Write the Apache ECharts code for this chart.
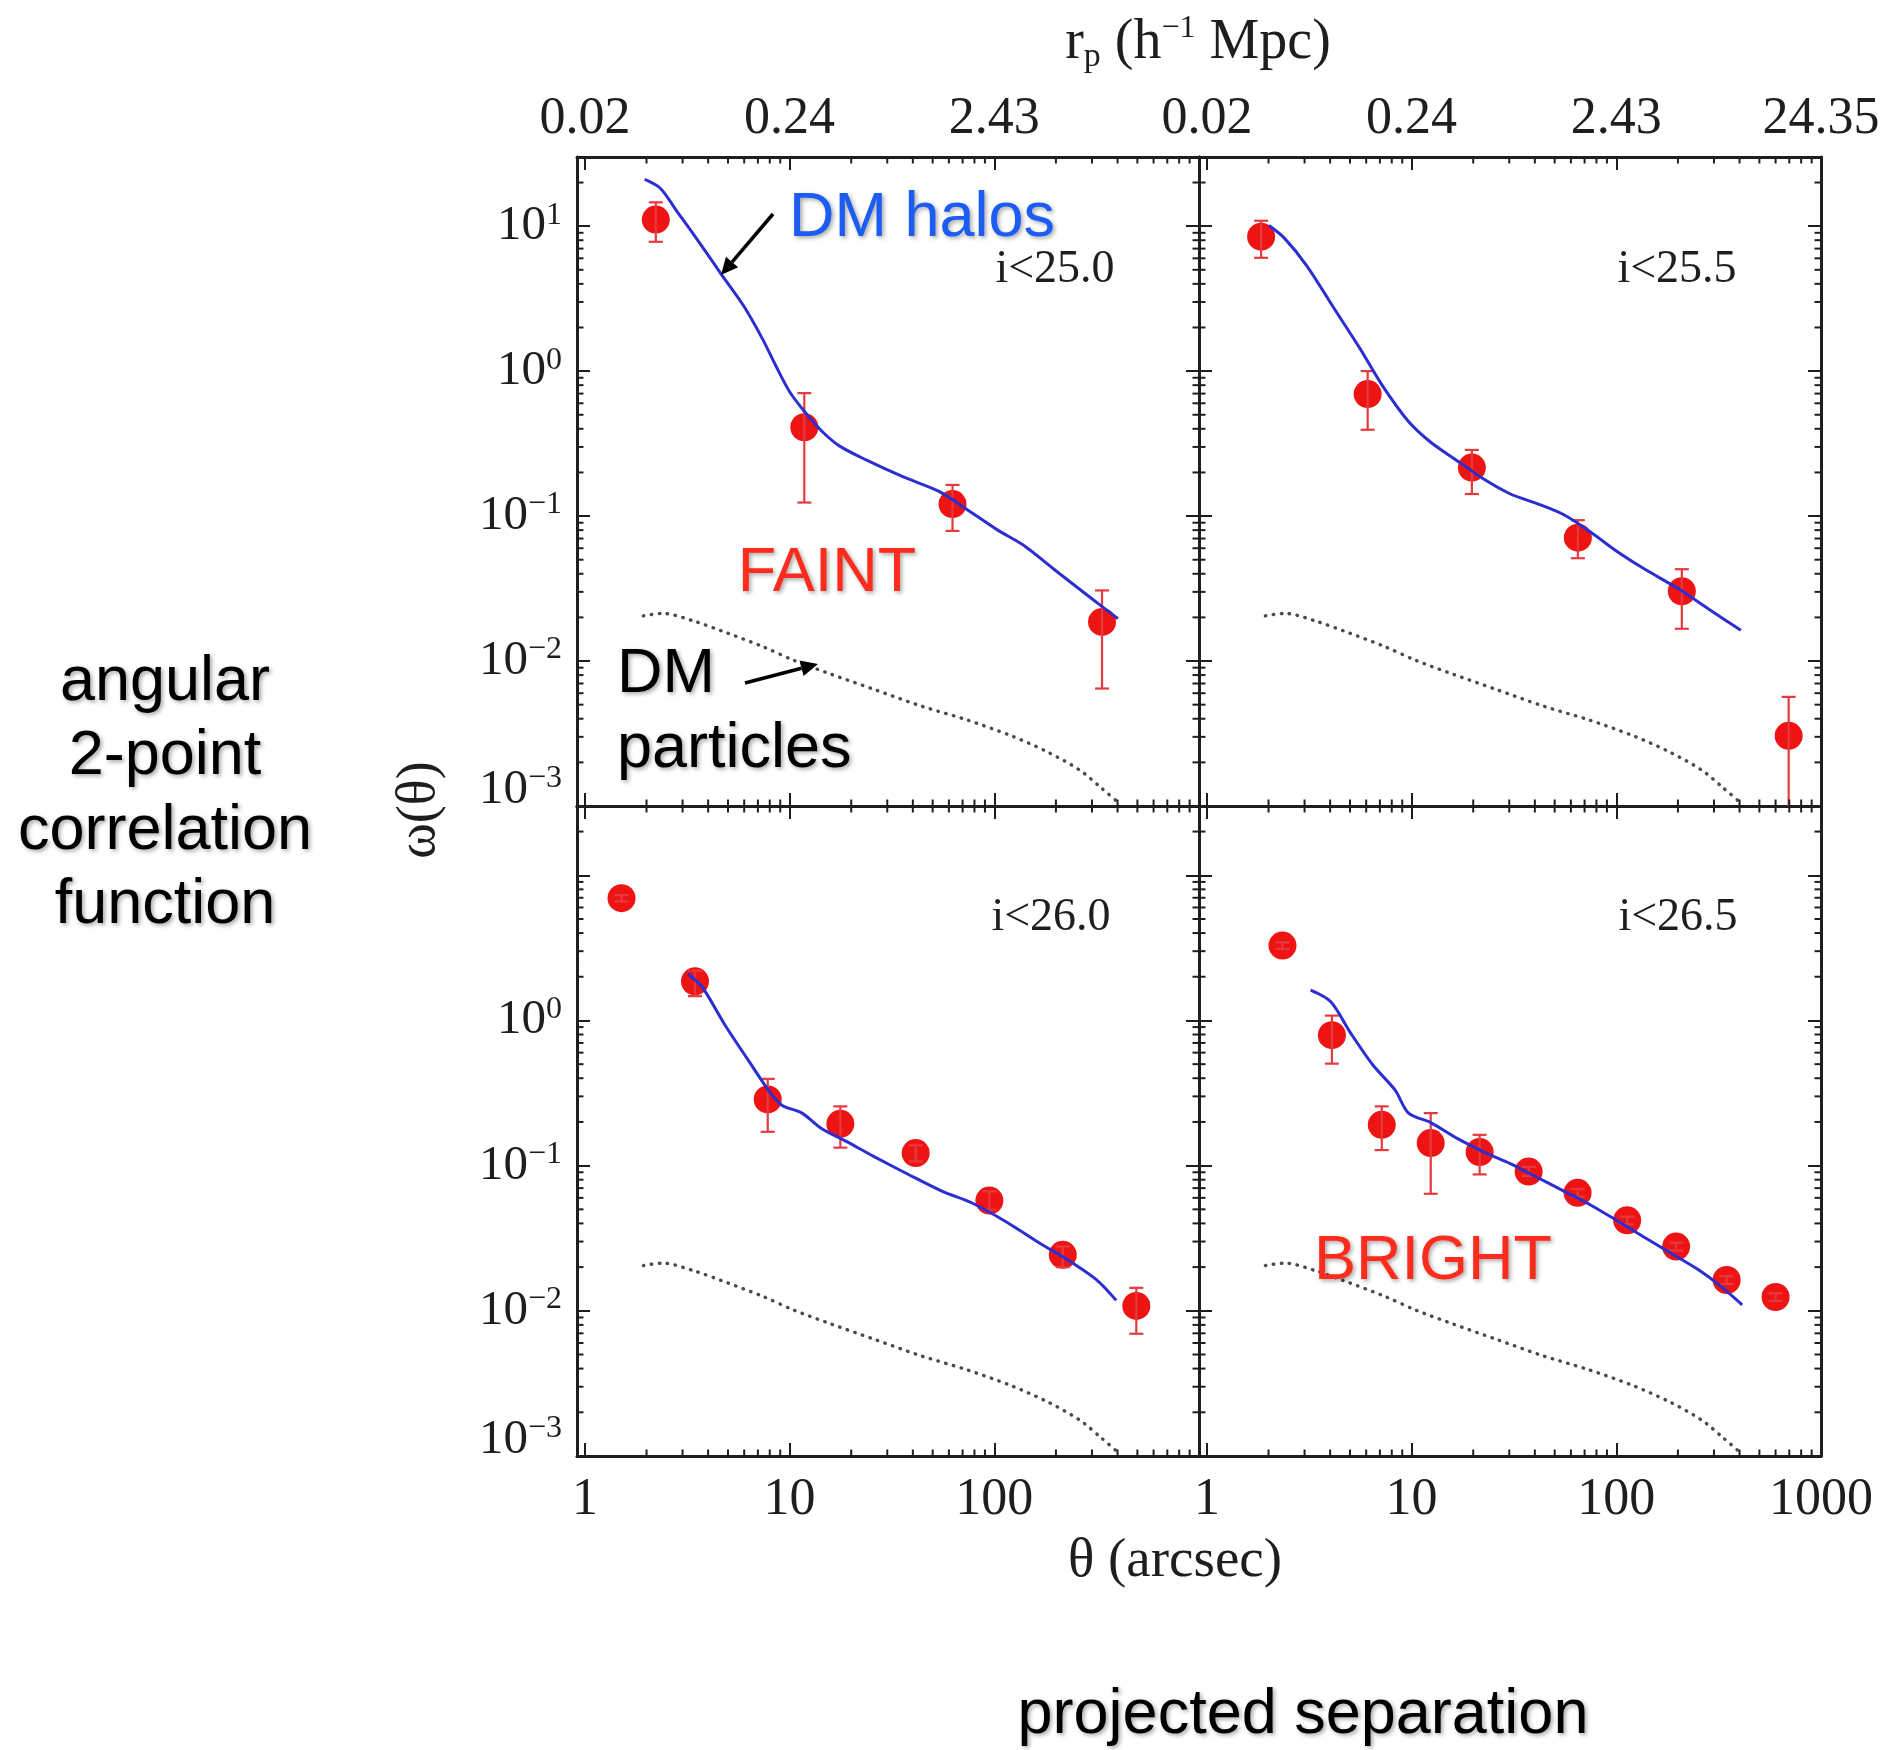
<!DOCTYPE html>
<html><head><meta charset="utf-8">
<script src="https://cdn.jsdelivr.net/npm/echarts@6/dist/echarts.min.js"></script>
<style>html,body{margin:0;padding:0;background:#fff}#c{width:1884px;height:1750px}</style>
</head><body><div id="c"></div>
<script>
// ---------------- data (theta in arcsec, omega(theta)) ----------------
// shared DM-particles curve (dotted)
const dmParticles = [[1.93,0.0205],[2.4,0.0213],[3.43,0.0188],[4.9,0.0157],[7.37,0.0126],[10.5,0.0101],[15.8,0.00815],[26.3,0.00632],[43.8,0.0049],[72.9,0.00394],[121,0.00305],[182,0.00236],[261,0.00177],[336,0.00132],[402,0.00106]];

// i<25.0
const ptsA = [[2.22,11.1],[11.8,0.41],[62.5,0.121],[336,0.0186]];
const errA = [[2.22,7.8,14.6],[11.8,0.124,0.705],[62.5,0.079,0.164],[336,0.00646,0.0307]];
const haloA = [[1.96,21.0],[2.34,18.2],[2.80,12.8],[3.43,8.6],[4.66,4.62],[6.01,2.77],[7.37,1.67],[8.59,1.08],[10,0.72],[11.9,0.52],[14.3,0.388],[17.5,0.305],[23.8,0.243],[35.7,0.187],[53.7,0.148],[72.9,0.112],[104,0.08],[141,0.062],[202,0.0415],[288,0.0281],[402,0.0196]];

// i<25.5
const ptsB = [[1.84,8.46],[6.1,0.695],[19.7,0.216],[64.9,0.071],[209,0.0303],[695,0.00305]];
const errB = [[1.84,6.05,10.9],[6.1,0.394,1.0],[19.7,0.142,0.286],[64.9,0.0512,0.0937],[209,0.0167,0.043],[695,0.0006,0.00566]];
const haloB = [[2.01,10.1],[2.39,8.27],[3.07,5.35],[4.14,2.77],[5.58,1.44],[7.16,0.804],[9.66,0.449],[12.4,0.323],[16.7,0.241],[22.5,0.180],[30.4,0.142],[41.0,0.122],[55.2,0.1025],[74.5,0.078],[100.5,0.0572],[135.5,0.0436],[202,0.0314],[286,0.0226],[406,0.0163]];

// i<26.0
const ptsC = [[1.51,6.95],[3.45,1.86],[7.82,0.286],[17.7,0.194],[41.3,0.122],[94.6,0.0575],[216,0.0243],[494,0.0108]];
const errC = [[1.51,6.6,7.3],[3.45,1.47,2.2],[7.82,0.171,0.396],[17.7,0.133,0.256],[41.3,0.107,0.138],[94.6,0.0497,0.0665],[216,0.020,0.0277],[494,0.00695,0.0144]];
const haloC = [[3.18,2.09],[3.74,1.70],[4.79,0.95],[6.29,0.531],[8.04,0.318],[9.21,0.26],[11.5,0.23],[14.3,0.18],[18.7,0.148],[26.0,0.115],[38.1,0.0869],[55.8,0.0665],[77.4,0.0555],[113,0.0414],[166,0.0293],[230,0.0223],[320,0.0161],[394,0.0118]];

// i<26.5
const ptsD = [[2.34,3.28],[4.08,0.792],[7.15,0.191],[12.4,0.143],[21.5,0.124],[37.3,0.091],[64.7,0.065],[113,0.042],[196,0.0277],[346,0.0163],[600,0.01245]];
const errD = [[2.34,3.1,3.45],[4.08,0.504,1.08],[7.15,0.128,0.256],[12.4,0.064,0.23],[21.5,0.087,0.163],[37.3,0.085,0.098],[64.7,0.061,0.069],[113,0.0395,0.0445],[196,0.026,0.0294],[346,0.0153,0.0173],[600,0.0117,0.0132]];
const haloD = [[3.21,1.62],[4.02,1.35],[5.03,0.822],[6.47,0.493],[8.31,0.331],[9.66,0.230],[12.4,0.198],[16.7,0.154],[22.6,0.124],[30.5,0.103],[41.2,0.0828],[55.7,0.0665],[75.2,0.0534],[102,0.0414],[137,0.0321],[185,0.0249],[250,0.0193],[321,0.0149],[412,0.011]];

const panelNames = ['i<25.0','i<25.5','i<26.0','i<26.5'];

// ticks / labels
const thetaTicks = [1,10,100,1000];
const thetaLabelsLeft = ['1','10','100',''];
const thetaLabelsRight = ['1','10','100','1000'];
const rpLabelsLeft = ['0.02','0.24','2.43',''];
const rpLabelsRight = ['0.02','0.24','2.43','24.35'];
const omegaExpTop = [1,0,-1,-2,-3];
const omegaExpBottom = [0,-1,-2,-3];
const minorMult = [2,3,4,5,6,7,8,9];
const xDecades = [1,10,100];
const yDecades = [0.001,0.01,0.1,1,10];

// ---------------- setup ----------------
const XMIN = 0.915, XMAX = 1000, YMIN = 0.001, YMAX = 30;
const SERIF = '"Liberation Serif","Times New Roman",serif';
const SANS = '"Liberation Sans",Arial,Helvetica,sans-serif';
const INK = '#1e1e1e';

const grids = [
  {left:577, top:157, width:622, height:649},
  {left:1199, top:157, width:622, height:649},
  {left:577, top:806, width:622, height:650},
  {left:1199, top:806, width:622, height:650}
];

function fmtX(labels){
  return function(v){
    for (let i=0;i<thetaTicks.length;i++){
      if (Math.abs(Math.log10(v/thetaTicks[i]))<1e-4) return labels[i];
    }
    return '';
  };
}
function fmtY(exps){
  return function(v){
    const l = Math.log10(v), e = Math.round(l);
    if (Math.abs(l-e)>1e-4 || exps.indexOf(e)<0) return '';
    const t = e<0 ? '\u2212'+(-e) : ''+e;
    return e===-3 ? '{bl|10}{sl|'+t+'}' : '{b|10}{s|'+t+'}';
  };
}
const yRich = {
  b:{fontFamily:SERIF,fontSize:49,color:INK},
  s:{fontFamily:SERIF,fontSize:32,color:INK,padding:[0,0,22,0]},
  bl:{fontFamily:SERIF,fontSize:49,color:INK,padding:[0,0,32,0]},
  sl:{fontFamily:SERIF,fontSize:32,color:INK,padding:[0,0,54,0]}
};
const lineSt = {show:true, onZero:false, lineStyle:{color:INK, width:3}};
const tickSt = {show:true, inside:true, length:13, lineStyle:{color:INK, width:2}};

function xAxis(gi, pos, labels){
  return {type:'log', logBase:10, gridIndex:gi, position:pos, min:XMIN, max:XMAX,
    axisLine:lineSt, axisTick:tickSt, splitLine:{show:false}, minorTick:{show:false},
    axisLabel: labels ? {show:true, formatter:fmtX(labels), fontFamily:SERIF, fontSize:52, color:INK,
      margin: pos==='bottom'?18:12, showMinLabel:true, showMaxLabel:true, hideOverlap:false} : {show:false}};
}
function yAxis(gi, pos, exps){
  return {type:'log', logBase:10, gridIndex:gi, position:pos, min:YMIN, max:YMAX,
    axisLine:lineSt, axisTick:tickSt, splitLine:{show:false}, minorTick:{show:false},
    axisLabel: exps ? {show:true, formatter:fmtY(exps), rich:yRich, margin:15,
      showMinLabel:true, showMaxLabel:true, hideOverlap:false} : {show:false}};
}

const xAxes = [
  xAxis(0,'bottom',null), xAxis(1,'bottom',null),
  xAxis(2,'bottom',thetaLabelsLeft), xAxis(3,'bottom',thetaLabelsRight),
  xAxis(0,'top',rpLabelsLeft), xAxis(1,'top',rpLabelsRight),
  xAxis(2,'top',null), xAxis(3,'top',null)
];
const yAxes = [
  yAxis(0,'left',omegaExpTop), yAxis(1,'left',null),
  yAxis(2,'left',omegaExpBottom), yAxis(3,'left',null),
  yAxis(0,'right',null), yAxis(1,'right',null),
  yAxis(2,'right',null), yAxis(3,'right',null)
];

// minor ticks data
const tickData = [];
xDecades.forEach(d => minorMult.forEach(m => tickData.push([m*d, YMIN, 0])));
yDecades.forEach(d => minorMult.forEach(m => { const v = m*d; if (v < YMAX) tickData.push([XMIN, v, 1]); }));

function tickRender(params, api){
  const kind = api.value(2);
  const st = {stroke:INK, lineWidth:2};
  const L = 6.5;
  if (kind === 0){
    const v = api.value(0);
    const b = api.coord([v, YMIN]), t = api.coord([v, YMAX]);
    return {type:'group', children:[
      {type:'line', shape:{x1:b[0],y1:b[1],x2:b[0],y2:b[1]-L}, style:st},
      {type:'line', shape:{x1:t[0],y1:t[1],x2:t[0],y2:t[1]+L}, style:st}]};
  } else {
    const v = api.value(1);
    const l = api.coord([XMIN, v]), r = api.coord([XMAX, v]);
    return {type:'group', children:[
      {type:'line', shape:{x1:l[0],y1:l[1],x2:l[0]+L,y2:l[1]}, style:st},
      {type:'line', shape:{x1:r[0],y1:r[1],x2:r[0]-L,y2:r[1]}, style:st}]};
  }
}

const ERR_COLOR = '#e43a3e';
function errRender(params, api){
  const cs = params.coordSys;
  const x = api.value(0), lo = api.value(1), hi = api.value(2);
  const p1 = api.coord([x, hi]), p2 = api.coord([x, lo]);
  const w = 7;
  const st = {stroke:ERR_COLOR, lineWidth:2.2};
  const bottom = cs.y + cs.height;
  const y2 = Math.min(p2[1], bottom);
  const ch = [
    {type:'line', shape:{x1:p1[0],y1:p1[1],x2:p1[0],y2:y2}, style:st},
    {type:'line', shape:{x1:p1[0]-w,y1:p1[1],x2:p1[0]+w,y2:p1[1]}, style:st}
  ];
  if (p2[1] <= bottom) ch.push({type:'line', shape:{x1:p2[0]-w,y1:p2[1],x2:p2[0]+w,y2:p2[1]}, style:st});
  return {type:'group', children:ch};
}

const panels = [
  {pts:ptsA, err:errA, halo:haloA},
  {pts:ptsB, err:errB, halo:haloB},
  {pts:ptsC, err:errC, halo:haloC},
  {pts:ptsD, err:errD, halo:haloD}
];
const series = [];
panels.forEach((p, i) => {
  series.push({type:'line', xAxisIndex:i, yAxisIndex:i, data:dmParticles, symbol:'none', showSymbol:false,
    smooth:0.3, lineStyle:{color:'#4a4a4a', width:3.4, type:[0.5,7.5], cap:'round'}, z:2, silent:true});
  series.push({type:'scatter', xAxisIndex:i, yAxisIndex:i, data:p.pts, symbol:'circle', symbolSize:28,
    itemStyle:{color:'#ef1414', opacity:1}, z:3, silent:true});
  series.push({type:'custom', xAxisIndex:i, yAxisIndex:i, data:p.err, renderItem:errRender,
    encode:{x:0, y:[1,2]}, z:4, silent:true});
  series.push({type:'line', xAxisIndex:i, yAxisIndex:i, data:p.halo, symbol:'none', showSymbol:false,
    smooth:0.3, lineStyle:{color:'#2b2fd1', width:3}, z:5, silent:true});
  series.push({type:'custom', xAxisIndex:i, yAxisIndex:i, data:tickData, renderItem:tickRender,
    encode:{x:0, y:1}, z:6, silent:true});
});

// ---------------- annotations ----------------
const shadow = {textShadowColor:'rgba(0,0,0,0.35)', textShadowBlur:4, textShadowOffsetX:2, textShadowOffsetY:2};
function txt(x, y, text, font, fill, align, extra){
  return {type:'text', x:x, y:y, z:50, style:Object.assign({text:text, font:font, fill:fill,
    textAlign:align||'center', textVerticalAlign:'middle'}, extra||{})};
}
function arrow(x1,y1,x2,y2){
  const a = Math.atan2(y2-y1, x2-x1), L = 17, W = 8;
  const bx = x2 - L*Math.cos(a), by = y2 - L*Math.sin(a);
  return [
    {type:'line', z:50, shape:{x1:x1,y1:y1,x2:bx,y2:by}, style:{stroke:'#000', lineWidth:3.5}},
    {type:'polygon', z:50, shape:{points:[[x2,y2],[bx+W*Math.sin(a), by-W*Math.cos(a)],[bx-W*Math.sin(a), by+W*Math.cos(a)]]}, style:{fill:'#000'}}
  ];
}
const F62 = '63px ' + SANS;
const graphics = [
  txt(1055, 270, panelNames[0], '46px '+SERIF, INK),
  txt(1677, 270, panelNames[1], '46px '+SERIF, INK),
  txt(1051, 918, panelNames[2], '46px '+SERIF, INK),
  txt(1678, 918, panelNames[3], '46px '+SERIF, INK),
  txt(789, 219, 'DM halos', F62, '#1b5cf5', 'left', shadow),
  txt(827, 574, 'FAINT', F62, '#ff2b1c', 'center', shadow),
  txt(1433, 1262, 'BRIGHT', F62, '#ff2b1c', 'center', shadow),
  txt(617, 675, 'DM', F62, '#000', 'left', shadow),
  txt(617, 750, 'particles', F62, '#000', 'left', shadow),
  txt(165, 683, 'angular', F62, '#000', 'center', shadow),
  txt(165, 757, '2-point', F62, '#000', 'center', shadow),
  txt(165, 832, 'correlation', F62, '#000', 'center', shadow),
  txt(165, 906, 'function', F62, '#000', 'center', shadow),
  txt(1303, 1716, 'projected separation', F62, '#000', 'center', shadow),
  txt(1175, 1562, '\u03b8 (arcsec)', '55px '+SERIF, INK),
  {type:'text', x:1198, y:43, z:50, style:{
    text:'{m|r}{sub|p}{m| (h}{sup|\u22121}{m| Mpc)}', textAlign:'center', textVerticalAlign:'middle',
    rich:{m:{fontFamily:SERIF,fontSize:56,fill:INK,color:INK},
          sub:{fontFamily:SERIF,fontSize:34,fill:INK,color:INK,padding:[28,0,0,0]},
          sup:{fontFamily:SERIF,fontSize:32,fill:INK,color:INK,padding:[0,0,28,0]}}}},
  {type:'text', x:420, y:810, rotation:Math.PI/2, z:50, style:{text:'\u03c9(\u03b8)', font:'54px '+SERIF,
    fill:INK, textAlign:'center', textVerticalAlign:'middle'}}
].concat(arrow(773,214,721,275)).concat(arrow(745,683,818,664));

const chart = echarts.init(document.getElementById('c'), null, {renderer:'canvas', width:1884, height:1750});
chart.setOption({
  animation:false,
  backgroundColor:'#ffffff',
  grid: grids,
  xAxis: xAxes,
  yAxis: yAxes,
  series: series,
  graphic: graphics
});
</script></body></html>
